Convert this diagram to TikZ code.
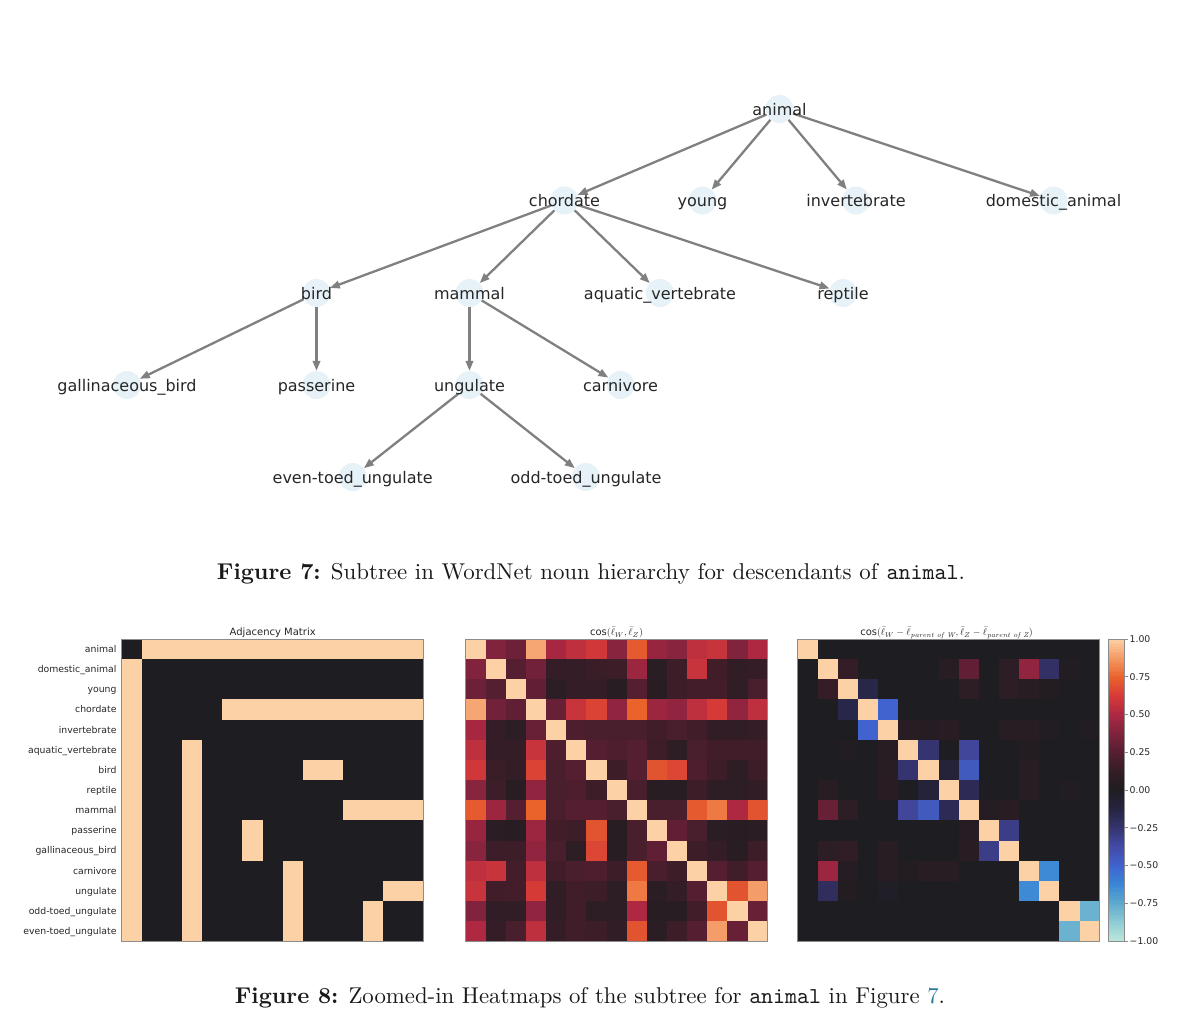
\documentclass[tikz,border=0pt]{standalone}
\usepackage{fontspec}
\usepackage{graphicx}
\usetikzlibrary{arrows.meta}
\newfontfamily\dv{DejaVu Sans}
\definecolor{ic0}{HTML}{BDE7DB}
\definecolor{ic1}{HTML}{8FCCD5}
\definecolor{ic2}{HTML}{5EAACE}
\definecolor{ic3}{HTML}{3A86D6}
\definecolor{ic4}{HTML}{4063CF}
\definecolor{ic5}{HTML}{434BA6}
\definecolor{ic6}{HTML}{363470}
\definecolor{ic7}{HTML}{26243F}
\definecolor{ic8}{HTML}{1E1D21}
\definecolor{ic9}{HTML}{351D26}
\definecolor{ic10}{HTML}{561E31}
\definecolor{ic11}{HTML}{80233D}
\definecolor{ic12}{HTML}{AE2842}
\definecolor{ic13}{HTML}{D73B37}
\definecolor{ic14}{HTML}{EA632B}
\definecolor{ic15}{HTML}{F49B65}
\definecolor{ic16}{HTML}{FDD1A6}
\definecolor{nodeblue}{HTML}{E6F2F8}
\definecolor{edgegray}{HTML}{808080}
\definecolor{txtdark}{HTML}{262626}
\definecolor{framegray}{HTML}{8C8C8C}
\definecolor{captext}{HTML}{1A1A1A}
\definecolor{reflink}{HTML}{2B7A99}
\newcommand\hmcolor[1]{%
  \pgfmathsetmacro\hmS{min(15.9999,max(0,(#1+1)*8))}%
  \pgfmathtruncatemacro\hmK{\hmS}%
  \pgfmathtruncatemacro\hmKK{\hmK+1}%
  \pgfmathsetmacro\hmT{(\hmS-\hmK)*100}%
  \colorlet{hmc}{ic\hmKK!\hmT!ic\hmK}%
}
\def\cs{20.15}
\newcommand\heatmap[3]{%
  \foreach \rowv [count=\r from 0] in {#3} {
    \foreach \v [count=\c from 0] in \rowv {
      \hmcolor{\v}
      \fill[hmc] ({#1+\c*\cs},{#2+\r*\cs}) rectangle ++(\cs+0.4,\cs+0.4);
    }
  }
  \draw[frame] (#1,#2) rectangle ++(15*\cs,15*\cs);
}
\tikzset{
  dot/.style={circle, fill=nodeblue, draw=none, minimum size=28pt, inner sep=0pt},
  lbl/.style={font=\dv\fontsize{16}{18}\selectfont, text=txtdark, anchor=base, inner sep=0pt},
  edge/.style={draw=edgegray, line width=2.3pt, -{Triangle[length=10pt,width=7.5pt]}},
  ticklbl/.style={font=\dv\fontsize{9.3}{11}\selectfont, text=txtdark, inner sep=0pt},
  ttl/.style={font=\dv\fontsize{10}{12}\selectfont, text=txtdark, anchor=base, inner sep=0pt},
  frame/.style={draw=framegray, line width=0.8pt},
  capt/.style={anchor=base, inner sep=0pt, text=captext},
}
\begin{document}
\begin{tikzpicture}[x=1pt,y=-1pt]
\useasboundingbox (0,0) rectangle (1200,1014);
% ---------- tree ----------
\node[dot] (animal) at (779.5,109) {};
\node[dot] (chordate) at (564.5,200.5) {};
\node[dot] (young) at (702.5,200.5) {};
\node[dot] (invertebrate) at (856,200.5) {};
\node[dot] (domestic) at (1053.5,200.5) {};
\node[dot] (bird) at (316.5,293) {};
\node[dot] (mammal) at (469.5,293) {};
\node[dot] (aquatic) at (660,293) {};
\node[dot] (reptile) at (843,293) {};
\node[dot] (gallinaceous) at (127,385) {};
\node[dot] (passerine) at (316.5,385) {};
\node[dot] (ungulate) at (469.5,385) {};
\node[dot] (carnivore) at (620.5,385) {};
\node[dot] (eventoed) at (352.7,477) {};
\node[dot] (oddtoed) at (586,477) {};
\draw[edge] (animal) -- (chordate);
\draw[edge] (animal) -- (young);
\draw[edge] (animal) -- (invertebrate);
\draw[edge] (animal) -- (domestic);
\draw[edge] (chordate) -- (bird);
\draw[edge] (chordate) -- (mammal);
\draw[edge] (chordate) -- (aquatic);
\draw[edge] (chordate) -- (reptile);
\draw[edge] (bird) -- (gallinaceous);
\draw[edge] (bird) -- (passerine);
\draw[edge] (mammal) -- (ungulate);
\draw[edge] (mammal) -- (carnivore);
\draw[edge] (ungulate) -- (eventoed);
\draw[edge] (ungulate) -- (oddtoed);
\node[lbl] (animal-t) at ([yshift=-6.5pt]animal.center) {animal};
\node[lbl] (chordate-t) at ([yshift=-6.5pt]chordate.center) {chordate};
\node[lbl] (young-t) at ([yshift=-6.5pt]young.center) {young};
\node[lbl] (invertebrate-t) at ([yshift=-6.5pt]invertebrate.center) {invertebrate};
\node[lbl] (domestic-t) at ([yshift=-6.5pt]domestic.center) {domestic\_animal};
\node[lbl] (bird-t) at ([yshift=-6.5pt]bird.center) {bird};
\node[lbl] (mammal-t) at ([yshift=-6.5pt]mammal.center) {mammal};
\node[lbl] (aquatic-t) at ([yshift=-6.5pt]aquatic.center) {aquatic\_vertebrate};
\node[lbl] (reptile-t) at ([yshift=-6.5pt]reptile.center) {reptile};
\node[lbl] (gallinaceous-t) at ([yshift=-6.5pt]gallinaceous.center) {gallinaceous\_bird};
\node[lbl] (passerine-t) at ([yshift=-6.5pt]passerine.center) {passerine};
\node[lbl] (ungulate-t) at ([yshift=-6.5pt]ungulate.center) {ungulate};
\node[lbl] (carnivore-t) at ([yshift=-6.5pt]carnivore.center) {carnivore};
\node[lbl] (eventoed-t) at ([yshift=-6.5pt]eventoed.center) {even-toed\_ungulate};
\node[lbl] (oddtoed-t) at ([yshift=-6.5pt]oddtoed.center) {odd-toed\_ungulate};
% ---------- caption 7 ----------
\node[capt] (cap7) at (591,579) {\resizebox{748pt}{!}{\textbf{Figure 7:} Subtree in WordNet noun hierarchy for descendants of \texttt{animal}.}};
% ---------- heatmaps ----------
\heatmap{121.5}{639}{%
{0,1,1,1,1,1,1,1,1,1,1,1,1,1,1},
{1,0,0,0,0,0,0,0,0,0,0,0,0,0,0},
{1,0,0,0,0,0,0,0,0,0,0,0,0,0,0},
{1,0,0,0,0,1,1,1,1,1,1,1,1,1,1},
{1,0,0,0,0,0,0,0,0,0,0,0,0,0,0},
{1,0,0,1,0,0,0,0,0,0,0,0,0,0,0},
{1,0,0,1,0,0,0,0,0,1,1,0,0,0,0},
{1,0,0,1,0,0,0,0,0,0,0,0,0,0,0},
{1,0,0,1,0,0,0,0,0,0,0,1,1,1,1},
{1,0,0,1,0,0,1,0,0,0,0,0,0,0,0},
{1,0,0,1,0,0,1,0,0,0,0,0,0,0,0},
{1,0,0,1,0,0,0,0,1,0,0,0,0,0,0},
{1,0,0,1,0,0,0,0,1,0,0,0,0,1,1},
{1,0,0,1,0,0,0,0,1,0,0,0,1,0,0},
{1,0,0,1,0,0,0,0,1,0,0,0,1,0,0}}
\heatmap{465.5}{639}{%
{1,0.38,0.32,0.9,0.48,0.55,0.6,0.4,0.72,0.44,0.4,0.55,0.58,0.38,0.5},
{0.38,1,0.25,0.33,0.12,0.12,0.14,0.15,0.45,0.07,0.15,0.58,0.17,0.1,0.12},
{0.32,0.25,1,0.28,0.08,0.12,0.12,0.05,0.25,0.05,0.15,0.18,0.18,0.1,0.2},
{0.9,0.33,0.28,1,0.3,0.58,0.65,0.42,0.75,0.45,0.42,0.55,0.62,0.42,0.55},
{0.48,0.12,0.08,0.3,1,0.22,0.2,0.2,0.2,0.17,0.2,0.17,0.1,0.1,0.12},
{0.55,0.12,0.12,0.58,0.22,1,0.25,0.22,0.25,0.15,0.08,0.2,0.17,0.17,0.17},
{0.6,0.14,0.12,0.65,0.2,0.25,1,0.15,0.25,0.7,0.66,0.22,0.15,0.08,0.15},
{0.4,0.15,0.05,0.42,0.2,0.22,0.15,1,0.2,0.05,0.05,0.15,0.08,0.08,0.1},
{0.72,0.45,0.25,0.75,0.2,0.25,0.25,0.2,1,0.2,0.2,0.72,0.8,0.5,0.7},
{0.44,0.07,0.05,0.45,0.17,0.15,0.7,0.05,0.2,1,0.28,0.2,0.07,0.05,0.07},
{0.4,0.15,0.15,0.42,0.2,0.08,0.66,0.05,0.2,0.28,1,0.15,0.12,0.05,0.15},
{0.55,0.58,0.18,0.55,0.17,0.2,0.22,0.15,0.72,0.2,0.15,1,0.25,0.17,0.25},
{0.58,0.17,0.18,0.62,0.1,0.17,0.15,0.08,0.8,0.07,0.12,0.25,1,0.7,0.88},
{0.38,0.1,0.1,0.42,0.1,0.17,0.08,0.08,0.5,0.05,0.05,0.17,0.7,1,0.3},
{0.5,0.12,0.2,0.55,0.12,0.17,0.15,0.1,0.7,0.07,0.15,0.25,0.88,0.3,1}}
\heatmap{797.5}{639}{%
{1,0,0,0,0,0,0,0,0,0,0,0,0,0,0},
{0,1,0.12,0,0,0,0,0.05,0.28,0,0.08,0.42,-0.22,0.02,0},
{0,0.12,1,-0.15,0,0,0,0,0.08,0,0.08,0.05,0.03,0,0},
{0,0,-0.15,1,-0.5,0,0,0,0,0,0,0,0,0,0},
{0,0,0,-0.5,1,0.05,0.04,0.06,0,0,0.05,0.05,0.02,0,0.02},
{0,0,0.02,0,0.05,1,-0.25,0,-0.35,0,0,0.03,0,0,0},
{0,0,0,0,0.05,-0.25,1,-0.1,-0.45,0,0,0.05,0,0,0},
{0,0.05,0,0,0.06,0,-0.1,1,-0.18,0,0,0.05,0,0.02,0},
{0,0.3,0.08,0,0,-0.35,-0.45,-0.18,1,0.04,0.06,0,0,0,0},
{0,0,0,0,0,0,0,0,0.04,1,-0.3,0,0,0,0},
{0,0.08,0.1,0,0.05,0,0,0,0.06,-0.3,1,0,0,0,0},
{0,0.45,0.04,0,0.05,0.03,0.05,0.05,0,0,0,1,-0.64,0,0},
{0,-0.2,0.03,0,-0.03,0,0,0,0,0,0,-0.64,1,0,0},
{0,0,0,0,0,0,0,0,0,0,0,0,0,1,-0.78},
{0,0,0,0,0,0,0,0,0,0,0,0,0,-0.78,1}}
% row labels
\foreach \n [count=\i from 0] in {animal,domestic\_animal,young,chordate,invertebrate,aquatic\_vertebrate,bird,reptile,mammal,passerine,gallinaceous\_bird,carnivore,ungulate,odd-toed\_ungulate,even-toed\_ungulate}
  \node[ticklbl, anchor=base east] (row\i) at (116.7,{639+(\i+0.5)*\cs+3.4}) {\n};
% titles
\node[ttl] (t1) at (272.7,635.5) {Adjacency Matrix};
\node[ttl] (t2) at (616.5,635.5) {cos$(\bar{\ell}_W,\bar{\ell}_Z)$};
\node[ttl] (t3) at (946.5,635.5) {cos$(\bar{\ell}_W-\bar{\ell}_{\mathit{parent\ of\ W}},\bar{\ell}_Z-\bar{\ell}_{\mathit{parent\ of\ Z}})$};
% colorbar
\foreach \i in {0,...,119} {
  \pgfmathsetmacro\cbv{-1+(\i+0.5)/60}
  \hmcolor{\cbv}
  \fill[hmc] (1108,{941-(\i+1)*2.5167}) rectangle (1124,{941-\i*2.5167+0.3});
}
\draw[frame] (1108,639) rectangle (1124,941);
\foreach \lab [count=\k from 0] in {1.00,0.75,0.50,0.25,0.00,−0.25,−0.50,−0.75,−1.00} {
  \draw[framegray, line width=0.8pt] (1124,{639+\k*37.75}) -- ++(3.5,0);
  \node[ticklbl, anchor=base west] (cb\k) at (1129.5,{639+\k*37.75+3.4}) {\lab};
}
% ---------- caption 8 ----------
\node[capt] (cap8) at (590,1003) {\resizebox{710pt}{!}{\textbf{Figure 8:} Zoomed-in Heatmaps of the subtree for \texttt{animal} in Figure {\color{reflink}7}.}};
\end{tikzpicture}
\end{document}
